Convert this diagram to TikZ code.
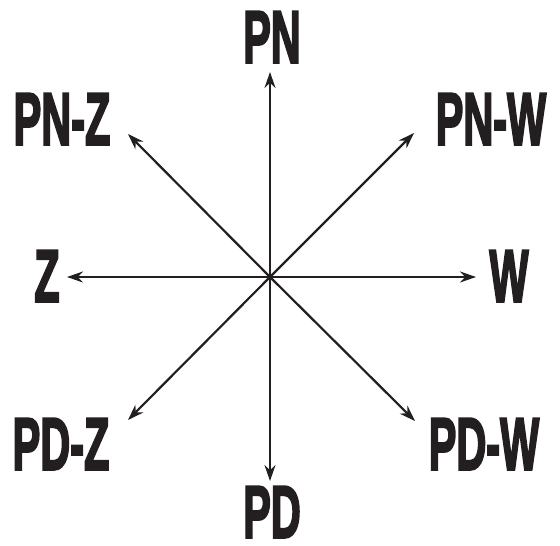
\documentclass[tikz,border=0pt]{standalone}
\usepackage{fontspec}
\newfontfamily\lblfont[FakeBold=3.5]{Liberation Sans Bold}
\usetikzlibrary{arrows.meta}
\definecolor{ink}{HTML}{231F20}
\tikzset{lbl/.style={inner sep=0pt,text=ink,font=\lblfont\fontsize{74}{74}\selectfont},
  dir/.style={draw=ink,line width=2.2pt,-{Stealth[length=16pt,width=11pt]}}}
\newcommand{\narrow}[1]{\scalebox{0.56}[1]{#1}}
\begin{document}
\begin{tikzpicture}[x=1pt,y=-1pt]
		  \useasboundingbox (0,0) rectangle (560,546);
		  \coordinate (o) at (270,277);
		  \coordinate (tN) at (270,72);
		  \coordinate (tS) at (270,481);
		  \coordinate (tW) at (67,277);
		  \coordinate (tE) at (476,277);
		  \coordinate (tNE) at (414,133);
		  \coordinate (tNW) at (128,134);
		  \coordinate (tSW) at (128,420);
		  \coordinate (tSE) at (415,421);
		  \node[lbl] (pn) at (272,37) {\narrow{PN}};
		  \node[lbl] (pnz) at (62,119) {\narrow{PN-Z}};
		  \node[lbl] (pnw) at (491,119) {\narrow{PN-W}};
		  \node[lbl] (z) at (47,276) {\narrow{Z}};
		  \node[lbl] (w) at (509,276) {\narrow{W}};
		  \node[lbl] (pdz) at (61,444) {\narrow{PD-Z}};
		  \node[lbl] (pdw) at (484,444) {\narrow{PD-W}};
		  \node[lbl] (pd) at (272,512) {\narrow{PD}};
		  \draw[dir] (o) -- (tN);
		  \draw[dir] (o) -- (tS);
		  \draw[dir] (o) -- (tW);
		  \draw[dir] (o) -- (tE);
		  \draw[dir] (o) -- (tNE);
		  \draw[dir] (o) -- (tNW);
		  \draw[dir] (o) -- (tSW);
		  \draw[dir] (o) -- (tSE);
		\end{tikzpicture}
\end{document}
